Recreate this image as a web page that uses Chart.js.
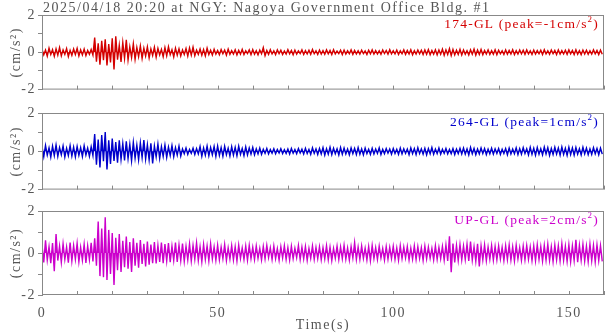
<!DOCTYPE html>
<html>
<head>
<meta charset="utf-8">
<script src="https://cdn.jsdelivr.net/npm/chart.js@4.4.1/dist/chart.umd.min.js"></script>
<style>
body { margin: 0; background: #fff; }
#wrap { position: relative; width: 605px; height: 334px; }
canvas { position: absolute; left: 0; }
</style>
</head>
<body>
<div id="wrap">
<canvas id="c1" width="605" height="100" style="top:0px"></canvas>
<canvas id="c2" width="605" height="100" style="top:100px"></canvas>
<canvas id="c3" width="605" height="134" style="top:200px"></canvas>
</div>
<script>
// per-second max / min of each trace (cm/s^2)
const titleText = '2025/04/18 20:20 at NGY: Nagoya Government Office Bldg. #1';
const xTicks = [0, 50, 100, 150];
const yTicks = [-2, 0, 2];

const ewHi = [
  .16,.12,.22,.14,.19,.26,.13,.20,.11,.18, .21,.13,.17,.10,.15,.79,.48,.62,.70,.44,
  .75,.86,.38,.52,.67,.30,.45,.26,.34,.22, .29,.18,.27,.21,.16,.25,.30,.14,.22,.19,
  .13,.20,.24,.28,.12,.18,.15,.22,.11,.16, .10,.15,.12,.17,.09,.14,.11,.16,.08,.13,
  .15,.09,.12,.25,.10,.14,.08,.13,.11,.07, .14,.10,.12,.08,.13,.09,.11,.15,.08,.12,
  .09,.13,.10,.14,.07,.11,.12,.08,.13,.10, .08,.12,.07,.11,.13,.09,.08,.12,.10,.14,
  .09,.12,.08,.13,.10,.14,.09,.12,.11,.13, .15,.10,.14,.12,.17,.13,.20,.15,.11,.16,
  .12,.09,.14,.17,.12,.15,.10,.13,.09,.14, .11,.08,.13,.10,.14,.09,.12,.11,.13,.08,
  .12,.09,.11,.14,.08,.12,.10,.13,.09,.11, .13,.10,.14,.09,.12,.11,.08,.13,.10,.12
];
const ewLo = [
  -.14,-.21,-.12,-.22,-.15,-.19,-.11,-.23,-.16,-.12, -.20,-.14,-.18,-.11,-.15,-.50,-.66,-.42,-.70,-.55,
  -.92,-.40,-.52,-.33,-.41,-.28,-.38,-.24,-.33,-.20, -.30,-.17,-.26,-.14,-.24,-.19,-.13,-.25,-.16,-.20,
  -.12,-.20,-.15,-.18,-.11,-.16,-.19,-.12,-.15,-.10, -.13,-.08,-.15,-.11,-.09,-.14,-.10,-.12,-.07,-.13,
  -.10,-.14,-.08,-.18,-.11,-.09,-.13,-.07,-.12,-.10, -.08,-.13,-.10,-.07,-.12,-.09,-.11,-.08,-.12,-.10,
  -.11,-.08,-.12,-.09,-.07,-.12,-.10,-.08,-.11,-.09, -.10,-.07,-.12,-.08,-.10,-.09,-.11,-.07,-.10,-.08,
  -.09,-.12,-.08,-.11,-.09,-.13,-.10,-.08,-.12,-.11, -.13,-.10,-.14,-.11,-.16,-.12,-.18,-.14,-.12,-.15,
  -.11,-.14,-.10,-.15,-.12,-.13,-.09,-.12,-.10,-.13, -.08,-.12,-.10,-.09,-.12,-.10,-.08,-.11,-.09,-.12,
  -.10,-.08,-.12,-.09,-.11,-.08,-.12,-.10,-.09,-.11, -.08,-.12,-.10,-.13,-.09,-.11,-.10,-.08,-.12,-.10
];
const nsHi = [
  .24,.31,.18,.27,.33,.20,.28,.16,.30,.22, .26,.19,.29,.17,.24,.90,.62,.85,1.0,.58,
  .66,.48,.57,.40,.52,.36,.47,.33,.44,.59, .35,.42,.28,.38,.24,.33,.22,.30,.19,.27,
  .12,.17,.10,.16,.14,.25,.18,.27,.20,.25, .28,.19,.26,.16,.24,.21,.27,.15,.23,.17,
  .20,.13,.17,.11,.15,.09,.13,.10,.14,.08, .12,.15,.09,.14,.11,.16,.10,.18,.13,.15,
  .19,.14,.21,.16,.13,.20,.17,.12,.18,.15, .20,.13,.17,.11,.16,.12,.18,.10,.14,.12,
  .15,.11,.17,.13,.12,.18,.14,.19,.13,.16, .14,.20,.12,.17,.11,.15,.10,.14,.12,.16,
  .17,.13,.21,.15,.12,.18,.14,.11,.16,.13, .15,.11,.14,.17,.12,.18,.14,.19,.13,.21,
  .16,.20,.14,.22,.19,.15,.21,.17,.23,.16, .22,.18,.20,.14,.21,.17,.13,.19,.15,.17
];
const nsLo = [
  -.28,-.20,-.31,-.23,-.27,-.18,-.30,-.22,-.25,-.29, -.21,-.27,-.19,-.26,-.22,-.70,-.85,-.52,-.95,-.66,
  -.50,-.60,-.42,-.48,-.38,-.50,-.36,-.44,-.33,-.40, -.45,-.63,-.30,-.38,-.27,-.32,-.22,-.28,-.20,-.25,
  -.13,-.16,-.11,-.17,-.14,-.26,-.20,-.24,-.18,-.27, -.22,-.26,-.18,-.25,-.20,-.24,-.16,-.23,-.19,-.15,
  -.18,-.14,-.16,-.11,-.14,-.10,-.13,-.09,-.12,-.11, -.14,-.10,-.13,-.09,-.14,-.12,-.16,-.11,-.17,-.14,
  -.20,-.15,-.18,-.13,-.19,-.16,-.14,-.19,-.12,-.17, -.15,-.19,-.12,-.16,-.14,-.11,-.17,-.13,-.10,-.15,
  -.12,-.16,-.14,-.11,-.18,-.13,-.17,-.12,-.15,-.19, -.13,-.16,-.12,-.15,-.11,-.14,-.13,-.17,-.12,-.14,
  -.15,-.19,-.13,-.18,-.14,-.12,-.17,-.13,-.15,-.11, -.16,-.12,-.18,-.14,-.13,-.17,-.15,-.12,-.19,-.16,
  -.21,-.15,-.19,-.14,-.22,-.17,-.15,-.20,-.16,-.21, -.17,-.20,-.15,-.19,-.14,-.18,-.16,-.13,-.18,-.15
];
const udHi = [
  .38,.60,.30,.47,.90,.33,.44,.28,.50,.35, .46,.27,.41,.34,.48,.70,1.50,1.16,1.70,1.10,
  .95,.72,.90,.58,.78,.52,.70,.48,.62,.44, .55,.40,.52,.36,.50,.42,.47,.33,.50,.38,
  .45,.32,.43,.36,.48,.30,.41,.34,.44,.29, .37,.28,.40,.25,.35,.30,.38,.24,.33,.36,
  .27,.34,.22,.31,.36,.25,.33,.21,.30,.35, .26,.32,.23,.36,.28,.31,.22,.34,.27,.30,
  .25,.35,.28,.22,.33,.29,.37,.24,.31,.50, .29,.34,.23,.31,.36,.26,.33,.22,.30,.27,
  .32,.24,.35,.28,.31,.23,.34,.30,.25,.33, .28,.22,.34,.27,.31,.38,.80,.45,.36,.40,
  .33,.42,.55,.30,.44,.34,.38,.29,.36,.31, .34,.27,.35,.38,.30,.37,.26,.33,.35,.29,
  .34,.40,.31,.36,.42,.30,.38,.35,.44,.33, .39,.34,.63,.37,.41,.33,.42,.36,.39,.35
];
const udLo = [
  -.45,-.34,-.48,-.87,-.36,-.44,-.31,-.46,-.38,-.30, -.42,-.35,-.47,-.32,-.40,-.60,-1.10,-1.15,-1.29,-1.00,
  -1.52,-.82,-.90,-.68,-.75,-.90,-.60,-.70,-.52,-.64, -.56,-.48,-.50,-.42,-.48,-.38,-.44,-.35,-.42,-.37,
  -.40,-.33,-.38,-.30,-.36,-.42,-.31,-.37,-.29,-.35, -.32,-.27,-.36,-.29,-.33,-.38,-.26,-.31,-.34,-.27,
  -.31,-.25,-.33,-.28,-.22,-.31,-.27,-.34,-.24,-.30, -.33,-.27,-.22,-.31,-.28,-.35,-.25,-.30,-.27,-.32,
  -.28,-.32,-.36,-.25,-.31,-.27,-.30,-.34,-.24,-.31, -.30,-.26,-.33,-.37,-.27,-.31,-.24,-.33,-.29,-.26,
  -.30,-.34,-.27,-.24,-.33,-.29,-.31,-.26,-.35,-.28, -.25,-.33,-.30,-.27,-.34,-.38,-.92,-.45,-.36,-.33,
  -.31,-.38,-.34,-.40,-.64,-.33,-.37,-.30,-.35,-.32, -.29,-.36,-.31,-.34,-.38,-.28,-.35,-.33,-.30,-.36,
  -.37,-.31,-.39,-.34,-.36,-.41,-.33,-.38,-.35,-.40, -.42,-.36,-.44,-.35,-.39,-.41,-.37,-.43,-.36,-.40
];

const FONT = 'Liberation Serif';
const TXT = '#555';
const AXIS = '#888';

// each second: max at t, min at t+0.5
function toPoints(hi, lo) {
  const pts = [];
  for (let i = 0; i < hi.length; i++) {
    pts.push({ x: i, y: hi[i] });
    pts.push({ x: i + 0.5, y: lo[i] });
  }
  return pts;
}

const panelPlugin = {
  id: 'panel',
  beforeDraw(chart) {
    chart.ctx.letterSpacing = '1.5px';
  },
  afterDraw(chart, args, opts) {
    const ctx = chart.ctx;
    const a = chart.chartArea;
    const xs = chart.scales.x;
    ctx.save();
    ctx.strokeStyle = AXIS;
    ctx.lineWidth = 1;
    ctx.strokeRect(a.left + 0.5, a.top + 0.5, a.right - a.left - 1, a.bottom - a.top - 1);
    ctx.beginPath();
    xs.ticks.forEach(t => {
      const px = Math.round(xs.getPixelForValue(t.value)) + 0.5;
      ctx.moveTo(px, a.bottom);
      ctx.lineTo(px, a.bottom - 4);
    });
    ctx.stroke();

    // station label with superscript
    ctx.letterSpacing = '1.2px';
    ctx.fillStyle = opts.color;
    ctx.textBaseline = 'alphabetic';
    ctx.textAlign = 'left';
    const big = '13.5px "' + FONT + '"', small = '9px "' + FONT + '"';
    ctx.font = big;
    const w1 = ctx.measureText(opts.label).width;
    const w3 = ctx.measureText(')').width;
    ctx.font = small;
    const w2 = ctx.measureText('2').width;
    let x = a.right - 5 - (w1 + w2 + w3);
    const y = a.top + 13;
    ctx.font = big;
    ctx.fillText(opts.label, x, y);
    ctx.font = small;
    ctx.fillText('2', x + w1, y - 6);
    ctx.font = big;
    ctx.fillText(')', x + w1 + w2, y);

    if (opts.title) {
      ctx.letterSpacing = '1.5px';
      ctx.fillStyle = TXT;
      ctx.font = '14px "' + FONT + '"';
      ctx.fillText(opts.title, a.left + 1, 12);
    }
    ctx.restore();
  }
};

function makePanel(id, hi, lo, color, label, cfg) {
  return new Chart(document.getElementById(id), {
    type: 'line',
    data: {
      datasets: [{
        data: toPoints(hi, lo),
        borderColor: color,
        backgroundColor: color,
        fill: 'origin',
        borderWidth: 1.4,
        pointRadius: 0,
        tension: 0
      }]
    },
    options: {
      responsive: false,
      animation: false,
      layout: { padding: { top: cfg.top, right: 1, left: 0, bottom: 0 } },
      plugins: {
        legend: { display: false },
        tooltip: { enabled: false },
        panel: { color: color, label: label, title: cfg.title }
      },
      scales: {
        x: {
          type: 'linear',
          min: 0,
          max: 160,
          afterFit: s => { s.height = cfg.xh; },
          grid: { drawOnChartArea: false, drawTicks: true, tickLength: 10, color: 'rgba(0,0,0,0)' },
          border: { display: false },
          ticks: {
            display: cfg.xLabels,
            stepSize: 10,
            autoSkip: false,
            maxRotation: 0,
            padding: 0,
            color: TXT,
            font: { family: FONT, size: 14 },
            callback: v => xTicks.includes(v) ? String(v) : ''
          },
          title: {
            display: cfg.xLabels,
            text: 'Time(s)',
            color: TXT,
            font: { family: FONT, size: 14 },
            padding: { top: 0, bottom: 0 }
          }
        },
        y: {
          min: -2,
          max: 2,
          afterFit: s => { s.width = 42; },
          grid: { drawOnChartArea: false, drawTicks: true, tickLength: 4, color: AXIS },
          border: { color: AXIS },
          ticks: {
            stepSize: 0.5,
            padding: 2,
            color: TXT,
            font: { family: FONT, size: 14 },
            callback: v => yTicks.includes(v) ? String(v) : ''
          },
          title: {
            display: true,
            text: '(cm/s²)',
            color: TXT,
            font: { family: FONT, size: 14 },
            padding: { top: 8, bottom: 0 }
          }
        }
      }
    },
    plugins: [panelPlugin]
  });
}

makePanel('c1', ewHi, ewLo, '#d40000', '174-GL (peak=-1cm/s', { top: 15, xh: 1, xLabels: false, title: titleText });
makePanel('c2', nsHi, nsLo, '#0000cc', '264-GL (peak=1cm/s', { top: 13, xh: 3, xLabels: false });
makePanel('c3', udHi, udLo, '#cc00cc', 'UP-GL (peak=2cm/s', { top: 11, xh: 39, xLabels: true });
</script>
</body>
</html>
